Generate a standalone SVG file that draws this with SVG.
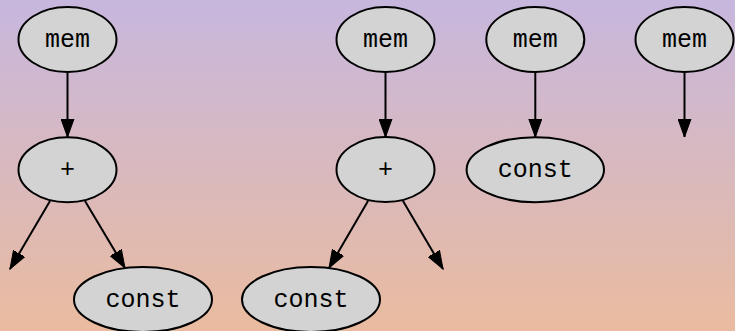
<svg xmlns="http://www.w3.org/2000/svg" width="735" height="331" viewBox="0 0 735 331">
<defs>
<linearGradient id="bg" x1="0" y1="0" x2="0" y2="1">
<stop offset="0" stop-color="#c7b7de"/>
<stop offset="1" stop-color="#eabb9f"/>
</linearGradient>
<marker id="ah" markerUnits="userSpaceOnUse" markerWidth="20" markerHeight="14" refX="18" refY="6.5" orient="auto" viewBox="0 0 20 13">
<path d="M0,0 L18,6.5 L0,13 Z" fill="#000" stroke="#000" stroke-width="1"/>
</marker>
<style>
.n ellipse{fill:#d3d3d3;stroke:#000;stroke-width:2}
.n text{font-family:"Liberation Mono","Courier New",monospace;font-size:25px;fill:#000;text-anchor:middle}
#edges line{stroke:#000;stroke-width:2;marker-end:url(#ah)}
</style>
</defs>
<rect x="0" y="0" width="735" height="331" fill="url(#bg)"/>
<g id="edges">
<line x1="67.5" y1="72" x2="67.5" y2="137"/>
<line x1="50" y1="201" x2="10" y2="269"/>
<line x1="85" y1="201" x2="125" y2="268"/>
<line x1="385.5" y1="72" x2="385.5" y2="137"/>
<line x1="368" y1="201" x2="329" y2="268"/>
<line x1="403" y1="201" x2="443" y2="269"/>
<line x1="535.3" y1="72" x2="535.3" y2="137"/>
<line x1="684.5" y1="72" x2="684.5" y2="137"/>
</g>
<g id="mem1" class="n"><ellipse cx="67.5" cy="39.5" rx="49" ry="32.5"/><text x="67.5" y="47">mem</text></g>
<g id="plus1" class="n"><ellipse cx="67.5" cy="169.8" rx="49" ry="32.5"/><text x="67.5" y="177">+</text></g>
<g id="const1" class="n"><ellipse cx="143" cy="299.5" rx="69" ry="32.5"/><text x="143" y="307">const</text></g>
<g id="mem2" class="n"><ellipse cx="385.5" cy="39.5" rx="49" ry="32.5"/><text x="385.5" y="47">mem</text></g>
<g id="plus2" class="n"><ellipse cx="385.5" cy="169.5" rx="49" ry="32.5"/><text x="385.5" y="177">+</text></g>
<g id="const2" class="n"><ellipse cx="311" cy="299.5" rx="69" ry="32.5"/><text x="311" y="307">const</text></g>
<g id="mem3" class="n"><ellipse cx="535.3" cy="39.5" rx="49" ry="32.5"/><text x="535.3" y="47">mem</text></g>
<g id="const3" class="n"><ellipse cx="535.3" cy="169.7" rx="68.7" ry="32.5"/><text x="535.3" y="177">const</text></g>
<g id="mem4" class="n"><ellipse cx="684.5" cy="39.5" rx="49" ry="32.5"/><text x="684.5" y="47">mem</text></g>
</svg>
